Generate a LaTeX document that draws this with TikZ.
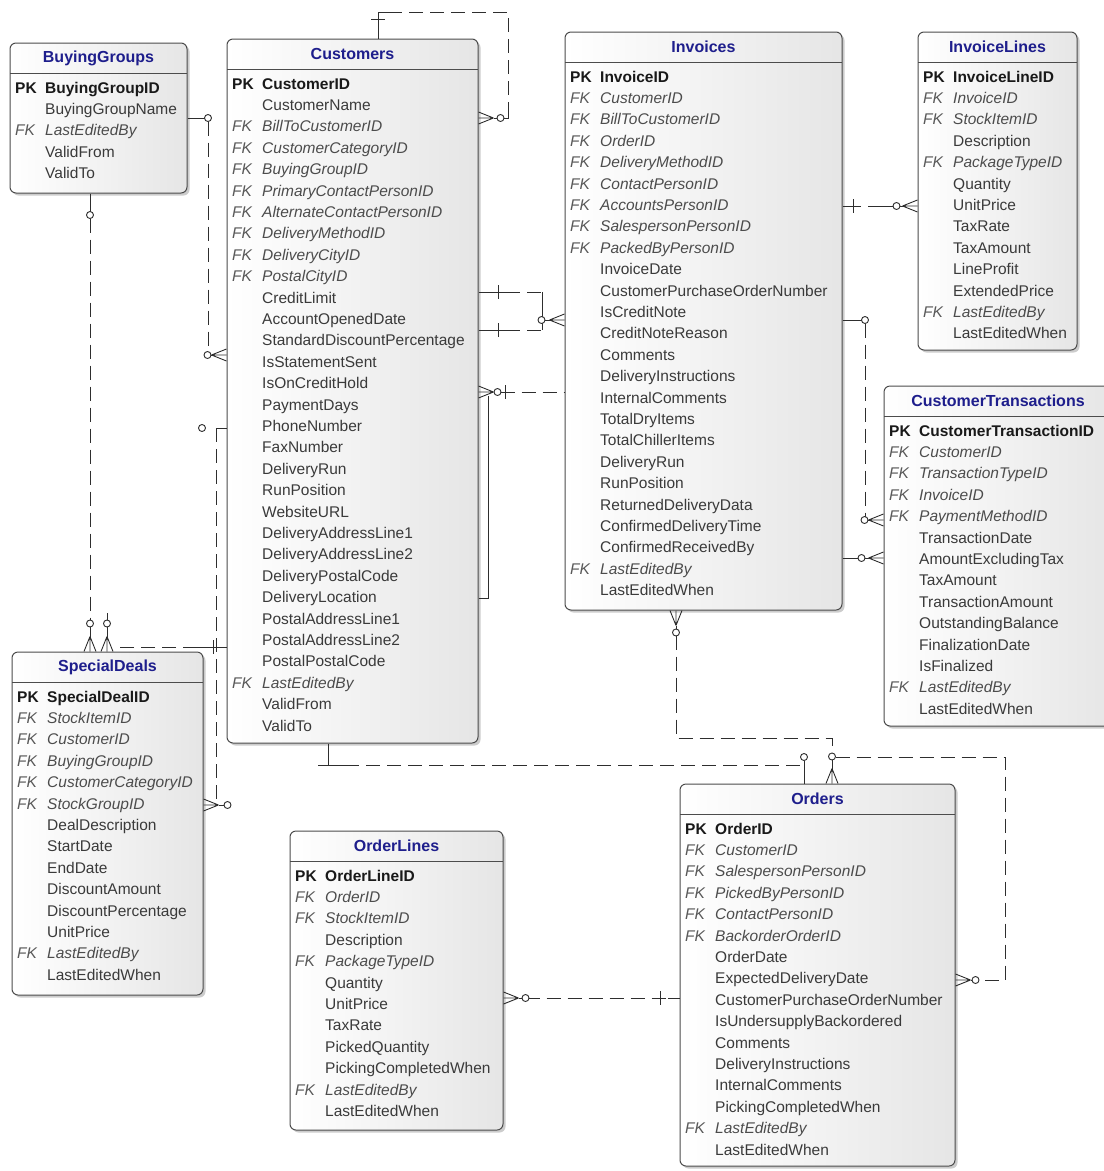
\documentclass[tikz,border=0pt]{standalone}
\usepackage{fontspec}
\setmainfont{Liberation Sans}
\usetikzlibrary{fit,shadows}

\definecolor{titleblue}{HTML}{1E1E8C}
\definecolor{fieldgray}{HTML}{3A3A3A}
\definecolor{linegray}{HTML}{2E2E2E}

\def\keyp{PK}
\def\keyf{FK}

% one table: name, left, top, right, bottom, title, rows (kind/field)
\newcommand{\entitybox}[7]{%
  \node[entity, fit={(#2,#3) (#4,#5)}] (#1) {};
  \node[title] (#1-t) at ({(#2+#4)/2},{#3+15}) {#6};
  \draw[sepline] (#2,{#3+30}) -- (#4,{#3+30});
  \foreach \ky/\fn [count=\i] in {#7} {
    \if\ky n\else
      \node[key \ky] (#1-k\i) at ({#2+5},{#3+46+(\i-1)*21.4}) {\csname key\ky\endcsname};
    \fi
    \node[field \ky] (#1-\i) at ({#2+35},{#3+46+(\i-1)*21.4}) {\fn};
  }%
}

\begin{document}
\begin{tikzpicture}[x=1pt,y=-1pt]
    \tikzstyle{entity} = [draw=black!70, line width=1pt, rounded corners=6pt, inner sep=0pt,
                          left color=white, right color=black!10,
                          drop shadow={shadow xshift=2.5pt, shadow yshift=-2.5pt, opacity=0.4}]
    \tikzstyle{title} = [font=\bfseries\fontsize{16}{18}\selectfont, text=titleblue, inner sep=0pt]
    \tikzstyle{sepline} = [draw=black!70, line width=1pt]
    \tikzstyle{row} = [anchor=west, inner sep=0pt, text height=11pt, text depth=3pt,
                       font=\fontsize{15.5}{18}\selectfont]
    \tikzstyle{key p} = [row, font=\bfseries\fontsize{15.5}{18}\selectfont, text=black!90]
    \tikzstyle{key f} = [row, font=\itshape\fontsize{15.5}{18}\selectfont, text=black!65]
    \tikzstyle{field p} = [row, font=\bfseries\fontsize{15.5}{18}\selectfont, text=black!90]
    \tikzstyle{field f} = [row, font=\itshape\fontsize{15.5}{18}\selectfont, text=black!70]
    \tikzstyle{field n} = [row, text=fieldgray]
    \tikzstyle{rel} = [draw=linegray, line width=0.9pt]
    \tikzstyle{opt} = [rel, dash pattern=on 14pt off 7pt]
    \tikzset{
      pics/many/.style={code={
        \draw[solid] (-15,0) -- (0,-6) (-15,0) -- (0,0) (-15,0) -- (0,6);
        \draw[solid] (-15,0) -- ({-#1+3.5},0);
        \draw[solid, fill=white] (-#1,0) circle[radius=3.5pt];
      }},
      pics/many/.default=19,
      pics/tick/.style={code={\draw[solid] (0,-7) -- (0,7);}},
      pics/zero/.style={code={\draw[solid, fill=white] (0,0) circle[radius=3.5pt];}}
    }

    \clip (0,0) rectangle (1104,1171);
    \fill[white] (0,0) rectangle (1104,1171);

    % tables
    \entitybox{bg}{10}{43}{187}{193}{BuyingGroups}{p/BuyingGroupID, n/BuyingGroupName,
      f/LastEditedBy, n/ValidFrom, n/ValidTo}
    \entitybox{cust}{227}{39}{478}{743}{Customers}{p/CustomerID, n/CustomerName,
      f/BillToCustomerID, f/CustomerCategoryID, f/BuyingGroupID, f/PrimaryContactPersonID,
      f/AlternateContactPersonID, f/DeliveryMethodID, f/DeliveryCityID, f/PostalCityID,
      n/CreditLimit, n/AccountOpenedDate, n/StandardDiscountPercentage, n/IsStatementSent,
      n/IsOnCreditHold, n/PaymentDays, n/PhoneNumber, n/FaxNumber, n/DeliveryRun,
      n/RunPosition, n/WebsiteURL, n/DeliveryAddressLine1, n/DeliveryAddressLine2,
      n/DeliveryPostalCode, n/DeliveryLocation, n/PostalAddressLine1, n/PostalAddressLine2,
      n/PostalPostalCode, f/LastEditedBy, n/ValidFrom, n/ValidTo}
    \entitybox{inv}{565}{32}{842}{610}{Invoices}{p/InvoiceID, f/CustomerID,
      f/BillToCustomerID, f/OrderID, f/DeliveryMethodID, f/ContactPersonID,
      f/AccountsPersonID, f/SalespersonPersonID, f/PackedByPersonID, n/InvoiceDate,
      n/CustomerPurchaseOrderNumber, n/IsCreditNote, n/CreditNoteReason, n/Comments,
      n/DeliveryInstructions, n/InternalComments, n/TotalDryItems, n/TotalChillerItems,
      n/DeliveryRun, n/RunPosition, n/ReturnedDeliveryData, n/ConfirmedDeliveryTime,
      n/ConfirmedReceivedBy, f/LastEditedBy, n/LastEditedWhen}
    \entitybox{invl}{918}{32}{1077}{350}{InvoiceLines}{p/InvoiceLineID, f/InvoiceID,
      f/StockItemID, n/Description, f/PackageTypeID, n/Quantity, n/UnitPrice, n/TaxRate,
      n/TaxAmount, n/LineProfit, n/ExtendedPrice, f/LastEditedBy, n/LastEditedWhen}
    \entitybox{ctr}{884}{386}{1112}{726}{CustomerTransactions}{p/CustomerTransactionID,
      f/CustomerID, f/TransactionTypeID, f/InvoiceID, f/PaymentMethodID, n/TransactionDate,
      n/AmountExcludingTax, n/TaxAmount, n/TransactionAmount, n/OutstandingBalance,
      n/FinalizationDate, n/IsFinalized, f/LastEditedBy, n/LastEditedWhen}
    \entitybox{sd}{12}{652}{203}{995}{SpecialDeals}{p/SpecialDealID, f/StockItemID,
      f/CustomerID, f/BuyingGroupID, f/CustomerCategoryID, f/StockGroupID,
      n/DealDescription, n/StartDate, n/EndDate, n/DiscountAmount, n/DiscountPercentage,
      n/UnitPrice, f/LastEditedBy, n/LastEditedWhen}
    \entitybox{ol}{290}{831}{503}{1130}{OrderLines}{p/OrderLineID, f/OrderID,
      f/StockItemID, n/Description, f/PackageTypeID, n/Quantity, n/UnitPrice, n/TaxRate,
      n/PickedQuantity, n/PickingCompletedWhen, f/LastEditedBy, n/LastEditedWhen}
    \entitybox{ord}{680}{784}{955}{1166}{Orders}{p/OrderID, f/CustomerID,
      f/SalespersonPersonID, f/PickedByPersonID, f/ContactPersonID, f/BackorderOrderID,
      n/OrderDate, n/ExpectedDeliveryDate, n/CustomerPurchaseOrderNumber,
      n/IsUndersupplyBackordered, n/Comments, n/DeliveryInstructions, n/InternalComments,
      n/PickingCompletedWhen, f/LastEditedBy, n/LastEditedWhen}

    % Customers to itself
    \draw[rel] (cust.north -| 378,0) -- (378,12) -- (388,12);
    \pic[rel, rotate=90] at (378,19) {tick};
    \draw[opt] (388,12) -- (508,12) -- (508,114);
    \draw[rel] (508,114) -- (508,118) -- (503.5,118);
    \pic[rel, rotate=180] at (cust.east |- 0,118) {many=22};

    % BuyingGroups to Customers
    \draw[rel] (bg.east |- 0,118) -- (204.5,118);
    \pic[rel] at (208,118) {zero};
    \draw[opt] (208,121.5) -- (208,351.5);
    \pic[rel] at (cust.west |- 0,355) {many};

    % BuyingGroups to SpecialDeals
    \draw[rel] (bg.south -| 90,0) -- (90,211.5);
    \pic[rel] at (90,215) {zero};
    \draw[opt] (90,218.5) -- (90,620.5);
    \pic[rel, rotate=-90] at (sd.north -| 90,0) {many=28};

    % Customers to SpecialDeals
    \draw[rel] (107,613) -- (107,620.5);
    \pic[rel, rotate=-90] at (sd.north -| 107,0) {many=28};
    \draw[rel] (cust.west |- 0,647) -- (197,647);
    \pic[rel] at (213,647) {tick};
    \draw[opt] (197,647) -- (113,647);

    % Customers to SpecialDeals (StockGroupID)
    \pic[rel] at (202,428) {zero};
    \draw[rel] (cust.west |- 0,428) -- (216,428);
    \draw[opt] (216,428) -- (216,805);
    \pic[rel, rotate=180] at (sd.east |- 0,805) {many=24};

    % Customers to Invoices
    \draw[rel] (cust.east |- 0,292) -- (506,292);
    \pic[rel] at (498,292) {tick};
    \draw[opt] (506,292) -- (542,292);
    \draw[rel] (cust.east |- 0,330) -- (506,330);
    \pic[rel] at (498,330) {tick};
    \draw[opt] (506,330) -- (542,330);
    \draw[rel] (542,292) -- (542,330);
    \pic[rel] at (inv.west |- 0,320) {many=23};

    \draw[opt] (500.5,392) -- (inv.west |- 0,392);
    \pic[rel] at (505,392) {tick};
    \pic[rel, rotate=180] at (cust.east |- 0,392) {many=19};
    \draw[rel] (cust.east |- 0,598) -- (488,598) -- (488,396);

    % Invoices to InvoiceLines
    \draw[rel] (inv.east |- 0,206) -- (861,206);
    \pic[rel] at (853,206) {tick};
    \draw[rel] (868,206) -- (893.5,206);
    \pic[rel] at (invl.west |- 0,206) {many=21};

    % Invoices to CustomerTransactions
    \draw[rel] (inv.east |- 0,320) -- (861.5,320);
    \pic[rel] at (865,320) {zero};
    \draw[opt] (865,323.5) -- (865,516.5);
    \pic[rel] at (ctr.west |- 0,520) {many=19};
    \draw[rel] (inv.east |- 0,558) -- (858.5,558);
    \pic[rel] at (ctr.west |- 0,558) {many=22};

    % Invoices to Orders
    \pic[rel, rotate=90] at (inv.south -| 676,0) {many=22};
    \draw[opt] (676,635.5) -- (676,738) -- (832,738) -- (832,753.5);
    \pic[rel, rotate=-90] at (ord.north -| 832,0) {many=27};

    % Orders to itself
    \draw[opt] (835.5,757) -- (1005,757) -- (1005,980) -- (978.5,980);
    \pic[rel, rotate=180] at (ord.east |- 0,980) {many=20};

    % Customers to Orders
    \draw[rel] (cust.south -| 328,0) -- (328,765);
    \draw[rel] (318,765) -- (345,765);
    \draw[opt] (345,765) -- (804,765);
    \draw[rel] (804,760.5) -- (ord.north -| 804,0);
    \pic[rel] at (804,757) {zero};

    % OrderLines to Orders
    \draw[opt] (525.5,998) -- (668,998);
    \draw[rel] (668,998) -- (ord.west |- 0,998);
    \pic[rel] at (660,998) {tick};
    \pic[rel, rotate=180] at (ol.east |- 0,998) {many=22};
\end{tikzpicture}
\end{document}
